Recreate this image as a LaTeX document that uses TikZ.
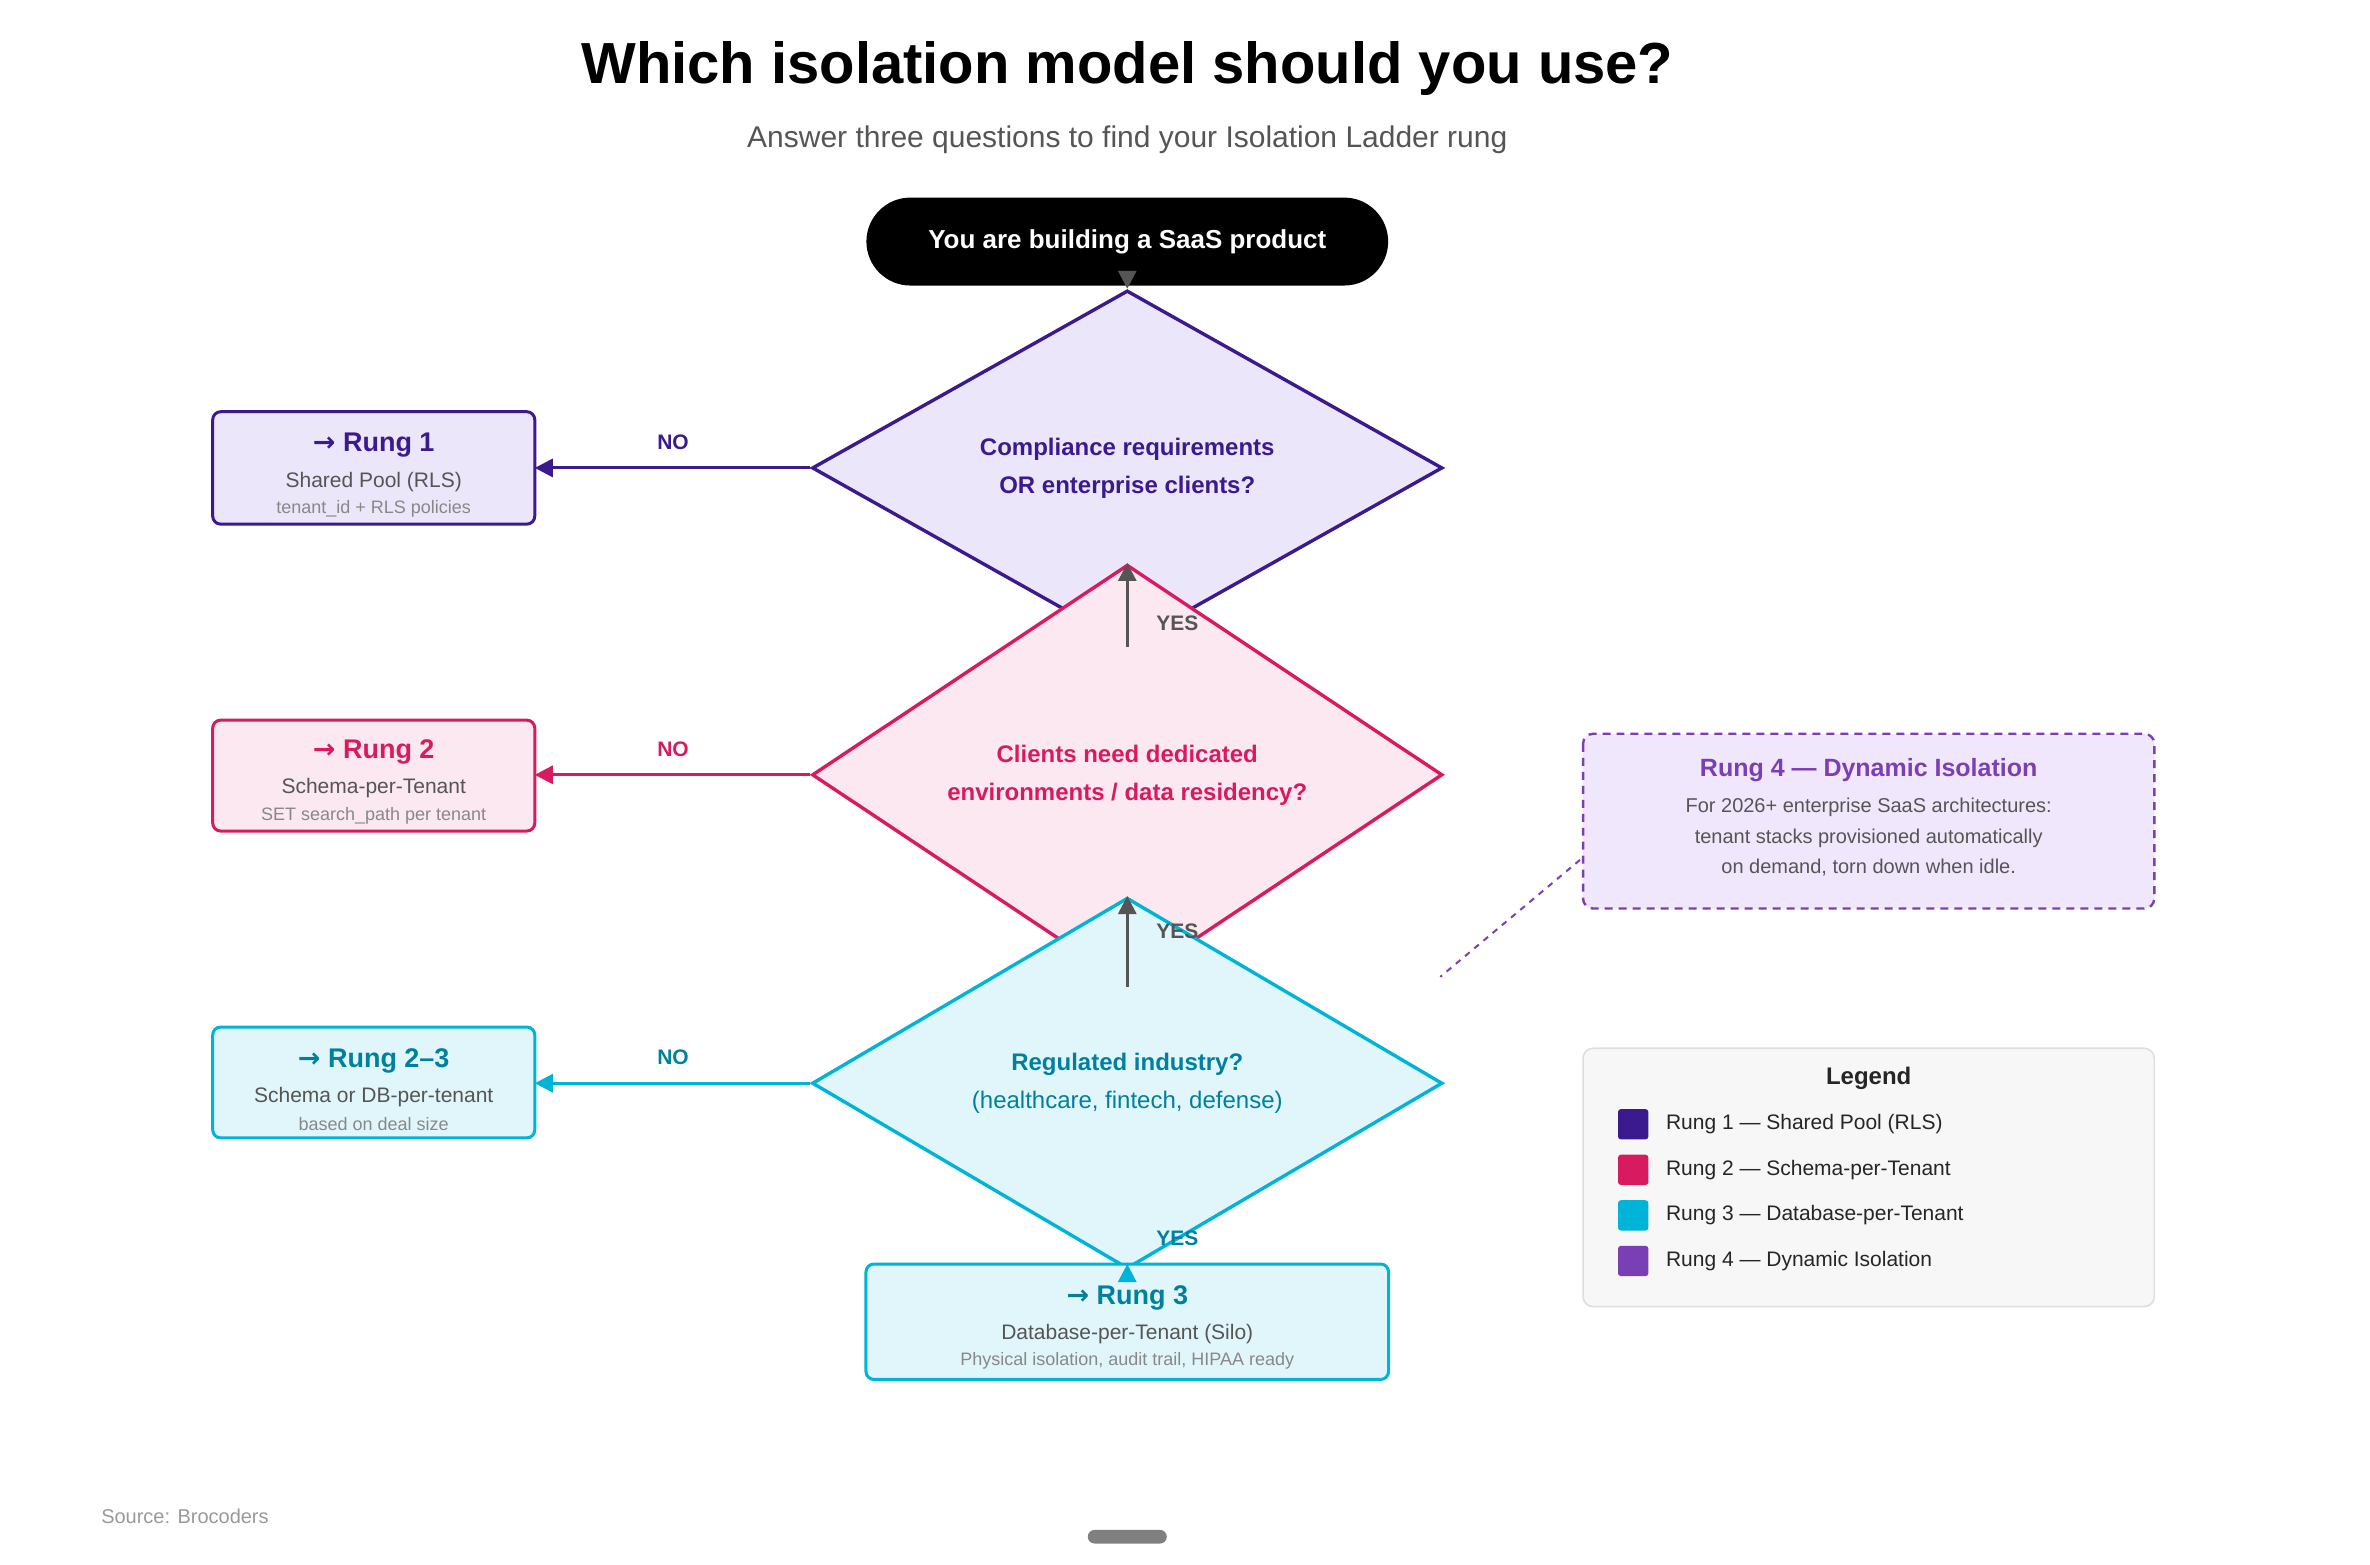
\documentclass[tikz,border=0pt]{standalone}
\usepackage{fontspec}
\setmainfont{Liberation Sans}
\newfontfamily\sym{DejaVu Sans}
\usetikzlibrary{shapes.geometric,arrows.meta}
\definecolor{cA}{HTML}{3B1A8F}\definecolor{fA}{HTML}{ECE6FA}
\definecolor{cB}{HTML}{D81B60}\definecolor{fB}{HTML}{FCE8F1}
\definecolor{cC}{HTML}{00B4D8}\definecolor{fC}{HTML}{E1F6FB}\definecolor{tC}{HTML}{00809F}
\definecolor{cD}{HTML}{7B3FB5}\definecolor{fD}{HTML}{F1E7FC}
\definecolor{gr}{HTML}{555555}\definecolor{lg}{HTML}{888888}
\begin{document}
\begin{tikzpicture}[x=0.76pt,y=-0.76pt,
 dia/.style={diamond,draw=#1,line width=1.7pt,inner sep=0pt,minimum width=315.4pt,minimum height=126.2pt,align=center,font=\bfseries\fontsize{12}{19}\selectfont},
 box/.style={rounded corners=4pt,line width=1.5pt,align=center},
 lab/.style={font=\bfseries\fontsize{10.5}{12}\selectfont},
 arr/.style={line width=1.5pt,-{Triangle[length=9pt,width=9pt]}},
 big/.style={font=\bfseries\fontsize{13.5}{16}\selectfont},
 sub/.style={font=\fontsize{10.5}{12}\selectfont,text=gr},
 sm/.style={font=\fontsize{9}{10}\selectfont,text=lg}]
\useasboundingbox (0,0) rectangle (1560,1030);
\node (title) at (742,45) {\bfseries\fontsize{29}{34}\selectfont Which isolation model should you use?};
\node (subt) at (742,92) {\fontsize{15}{18}\selectfont\color{gr}Answer three questions to find your Isolation Ladder rung};
\node[fill=black,rounded corners=22pt,minimum width=261pt,minimum height=44pt,text=white,font=\bfseries\fontsize{13}{16}\selectfont] (start) at (742,159) {You are building a SaaS product};
\node[dia=cA,fill=fA,text=cA] (d1) at (742,308) {Compliance requirements\\OR enterprise clients?};
\node[dia=cB,fill=fB,text=cB] (d2) at (742,510) {Clients need dedicated\\environments / data residency?};
\node[dia=cC,fill=fC,text=tC] (d3) at (742,713) {Regulated industry?\\{\mdseries(healthcare, fintech, defense)}};
\draw[box,draw=cA,fill=fA] (140,271) rectangle (352,345);
\node[coordinate] (r1) at (352,308) {};
\node[big,text=cA] (r1a) at (246,293) {{\sym →} Rung 1};
\node[sub] (r1b) at (246,317) {Shared Pool (RLS)};
\node[sm] (r1c) at (246,335) {tenant\_id + RLS policies};
\draw[box,draw=cB,fill=fB] (140,474) rectangle (352,547);
\node[coordinate] (r2) at (352,510) {};
\node[big,text=cB] (r2a) at (246,495) {{\sym →} Rung 2};
\node[sub] (r2b) at (246,519) {Schema-per-Tenant};
\node[sm] (r2c) at (246,537) {SET search\_path per tenant};
\draw[box,draw=cC,fill=fC] (140,676) rectangle (352,749);
\node[coordinate] (r23) at (352,713) {};
\node[big,text=tC] (r3a) at (246,698) {{\sym →} Rung 2–3};
\node[sub] (r3b) at (246,722) {Schema or DB-per-tenant};
\node[sm] (r3c) at (246,740) {based on deal size};
\draw[box,draw=cC,fill=fC] (570,832) rectangle (914,908);
\node[coordinate] (r3) at (742,832) {};
\node[big,text=tC] (r4a) at (742,854) {{\sym →} Rung 3};
\node[sub] (r4b) at (742,878) {Database-per-Tenant (Silo)};
\node[sm] (r4c) at (742,896) {Physical isolation, audit trail, HIPAA ready};
\draw[arr,draw=gr,fill=gr] (start) -- (d1.north);
\draw[arr,draw=gr,fill=gr] (d1.south) -- (d2.north);
\draw[arr,draw=gr,fill=gr] (d2.south) -- (d3.north);
\draw[arr,draw=cC,fill=cC] (d3.south) -- (r3);
\draw[arr,draw=cA,fill=cA] (d1.west) -- (r1);
\draw[arr,draw=cB,fill=cB] (d2.west) -- (r2);
\draw[arr,draw=cC,fill=cC] (d3.west) -- (r23);
\node[lab,text=cA] (n1) at (443,291) {NO};
\node[lab,text=cB] (n2) at (443,493) {NO};
\node[lab,text=tC] (n3) at (443,696) {NO};
\node[lab,text=gr] (y1) at (775,410) {YES};
\node[lab,text=gr] (y2) at (775,613) {YES};
\node[lab,text=tC] (y3) at (775,815) {YES};
\draw[rounded corners=5pt,draw=cD,fill=fD,line width=1.2pt,dash pattern=on 4pt off 3pt] (1042,483) rectangle (1418,598);
\coordinate (c4) at (1040,566); \coordinate (c4e) at (948,643);
\draw[cD,line width=1pt,dash pattern=on 3pt off 3pt] (c4) -- (c4e);
\node[font=\bfseries\fontsize{12.5}{15}\selectfont,text=cD] (t4) at (1230,507) {Rung 4 — Dynamic Isolation};
\node[font=\fontsize{10}{15.2}\selectfont,text=gr,align=center] (t4b) at (1230,551) {For 2026+ enterprise SaaS architectures:\\tenant stacks provisioned automatically\\on demand, torn down when idle.};
\draw[rounded corners=5pt,draw=black!13,fill=black!3,line width=0.8pt] (1042,690) rectangle (1418,860);
\node[font=\bfseries\fontsize{12}{14}\selectfont,text=black!85] (lgt) at (1230,710) {Legend};
\foreach \c/\t [count=\i] in {cA/Rung 1 — Shared Pool (RLS),cB/Rung 2 — Schema-per-Tenant,cC/Rung 3 — Database-per-Tenant,cD/Rung 4 — Dynamic Isolation}{
 \fill[\c,rounded corners=1.5pt] (1065,{730+30*(\i-1)}) rectangle (1085,{750+30*(\i-1)});
 \node[anchor=west,font=\fontsize{10.5}{12}\selectfont,text=black!85] at (1092,{740+30*(\i-1)}) {\t};}
\node[anchor=west,font=\fontsize{10}{12}\selectfont,text=black!40] (src) at (62,998) {Source: Brocoders};
\fill[black!50,rounded corners=3.4pt] (716,1007) rectangle (768,1016);
\end{tikzpicture}
\end{document}
